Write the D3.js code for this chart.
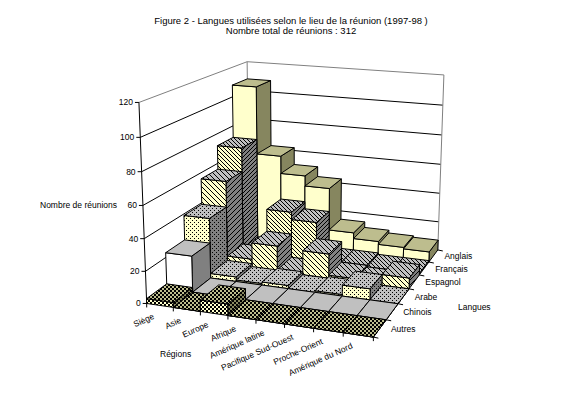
<!DOCTYPE html>
<html lang="fr">
<head>
<meta charset="utf-8">
<title>Langues utilisées</title>
<script src="https://d3js.org/d3.v7.min.js"></script>
<style>
    body { margin: 0; background: #fff; }
    svg { display: block; }
    text { font-family: "Liberation Sans", Arial, sans-serif; font-size: 8.5px; fill: #000; }
</style>
</head>
<body>
<div id="plot"></div>
<script>
// values, one array per language, same order as regions
var regions = ["Siège", "Asie", "Europe", "Afrique", "Amérique latine", "Pacifique Sud-Ouest", "Proche-Orient", "Amérique du Nord"];
var langues = ["Autres", "Chinois", "Arabe", "Espagnol", "Français", "Anglais"];
var anglais = [108, 62, 50, 43, 14, 10, 8, 7];
var francais = [72, 3, 32, 27, 2, 2, 1, 1];
var espagnol = [56, 6, 17, 1, 16, 2, 1, 7];
var arabe = [39, 3, 1, 2, 0, 1, 7, 0];
var chinois = [23, 0, 0, 0, 0, 0, 0, 0];
var autres = [3, 0, 7, 0, 0, 0, 0, 0];
var valeurs = [autres, chinois, arabe, espagnol, francais, anglais];
var yTicks = [0, 20, 40, 60, 80, 100, 120];

var svg = d3.select("#plot").append("svg").attr("width", 578).attr("height", 396);

// fit a camera matrix to the corners of the chart box (x, y, z in 0..1)
var corners = [
    [0, 0, 0, 147, 304], [1, 0, 0, 373, 337], [1, 1, 0, 438, 250], [0, 1, 0, 249, 227],
    [0, 0, 1, 139, 102], [0, 1, 1, 247, 62], [1, 1, 1, 444, 75]
];
function fitCamera(pts) {
    var rows = [];
    pts.forEach(function (p) {
        rows.push([p[0], p[1], p[2], 1, 0, 0, 0, 0, -p[3] * p[0], -p[3] * p[1], -p[3] * p[2], p[3]]);
        rows.push([0, 0, 0, 0, p[0], p[1], p[2], 1, -p[4] * p[0], -p[4] * p[1], -p[4] * p[2], p[4]]);
    });
    var n = 11, m = [];
    for (var i = 0; i < n; i++) {
        m.push([]);
        for (var j = 0; j <= n; j++) m[i].push(d3.sum(rows, function (r) { return r[i] * r[j]; }));
    }
    for (i = 0; i < n; i++) {
        var best = i;
        for (j = i + 1; j < n; j++) if (Math.abs(m[j][i]) > Math.abs(m[best][i])) best = j;
        var t = m[i]; m[i] = m[best]; m[best] = t;
        for (j = 0; j < n; j++) {
            if (j == i) continue;
            var f = m[j][i] / m[i][i];
            for (var k = i; k <= n; k++) m[j][k] -= f * m[i][k];
        }
    }
    return m.map(function (r, i) { return r[n] / r[i]; });
}
var cam = fitCamera(corners);
function project(x, y, z) {
    var w = cam[8] * x + cam[9] * y + cam[10] * z + 1;
    return [(cam[0] * x + cam[1] * y + cam[2] * z + cam[3]) / w,
            (cam[4] * x + cam[5] * y + cam[6] * z + cam[7]) / w];
}

var xScale = d3.scaleBand().domain(regions).range([0, 1]);
var yScale = d3.scaleBand().domain(langues).range([0, 1]);
var zScale = d3.scaleLinear().domain([0, 120]).range([0, 1]);

// fill patterns
var defs = svg.append("defs");
function makePattern(id, bg, kind, size) {
    var p = defs.append("pattern").attr("id", id).attr("patternUnits", "userSpaceOnUse")
        .attr("width", size).attr("height", size);
    p.append("rect").attr("width", size).attr("height", size).attr("fill", bg);
    var cells = [], s = 1;
    if (kind == "back") d3.range(size).forEach(function (i) { cells.push([i, i]); });
    if (kind == "fwd") d3.range(size).forEach(function (i) { cells.push([i, size - 1 - i]); });
    if (kind == "dots") cells = [[0, 0], [size / 2, size / 2]];
    if (kind == "check") { cells = [[0, 0], [size / 2, size / 2]]; s = size / 2; }
    p.selectAll("rect.c").data(cells).join("rect").attr("class", "c")
        .attr("x", function (d) { return d[0]; }).attr("y", function (d) { return d[1]; })
        .attr("width", s).attr("height", s).attr("fill", "#000")
        .attr("shape-rendering", "crispEdges");
    return "url(#" + id + ")";
}
var yellow = "#ffffcc", grey = "#c0c0c0", dark = "#808080", olive = "#bdbd8e", oliveDark = "#86865f";
var faces = {
    "Anglais": { front: yellow, top: olive, side: oliveDark },
    "Français": { front: makePattern("f1", yellow, "back", 4), top: makePattern("f2", grey, "back", 4), side: makePattern("f3", dark, "fwd", 4) },
    "Espagnol": { front: makePattern("e1", yellow, "back", 5), top: makePattern("e2", grey, "back", 5), side: makePattern("e3", dark, "fwd", 5) },
    "Arabe": { front: makePattern("a1", yellow, "dots", 4), top: makePattern("a2", grey, "dots", 4), side: makePattern("a3", dark, "dots", 4) },
    "Chinois": { front: "#fff", top: grey, side: dark },
    "Autres": { front: makePattern("o1", yellow, "check", 4), top: makePattern("o2", olive, "check", 4), side: makePattern("o3", oliveDark, "check", 4) }
};

function poly(pts) {
    return d3.line()(pts.map(function (p) { return project(p[0], p[1], p[2]); })) + "Z";
}
function seg(g, a, b, color) {
    var p = project(a[0], a[1], a[2]), q = project(b[0], b[1], b[2]);
    g.append("line").attr("x1", p[0]).attr("y1", p[1]).attr("x2", q[0]).attr("y2", q[1])
        .attr("stroke", color);
}

// walls
var walls = svg.append("g");
yTicks.forEach(function (v) {
    var z = zScale(v);
    var color = v == 120 ? "#808080" : "#000";
    seg(walls, [0, 0, z], [0, 1, z], color);
    seg(walls, [0, 1, z], [1, 1, z], color);
});
seg(walls, [0, 1, 0], [0, 1, 1], "#808080");
seg(walls, [1, 1, 0], [1, 1, 1], "#808080");
seg(walls, [0, 0, 0], [0, 0, 1], "#000");

// bars, back row first, left to right
var cells = [];
langues.slice().reverse().forEach(function (l) {
    regions.forEach(function (r, i) {
        cells.push({ langue: l, region: r, value: valeurs[langues.indexOf(l)][i] });
    });
});
var bars = svg.append("g").selectAll("g").data(cells).join("g")
    .attr("stroke", "#000").attr("stroke-width", 1).attr("stroke-linejoin", "round");
function box(d) {
    var x0 = xScale(d.region), x1 = x0 + xScale.bandwidth();
    var y0 = yScale(d.langue), y1 = y0 + yScale.bandwidth();
    return { x0: x0, x1: x1, y0: y0, y1: y1, z: zScale(d.value) };
}
bars.append("path")
    .attr("fill", function (d) { return faces[d.langue].side; })
    .attr("d", function (d) { var b = box(d); return poly([[b.x1, b.y0, 0], [b.x1, b.y1, 0], [b.x1, b.y1, b.z], [b.x1, b.y0, b.z]]); });
bars.append("path")
    .attr("fill", function (d) { return faces[d.langue].front; })
    .attr("d", function (d) { var b = box(d); return poly([[b.x0, b.y0, 0], [b.x1, b.y0, 0], [b.x1, b.y0, b.z], [b.x0, b.y0, b.z]]); });
bars.append("path")
    .attr("fill", function (d) { return faces[d.langue].top; })
    .attr("d", function (d) { var b = box(d); return poly([[b.x0, b.y0, b.z], [b.x1, b.y0, b.z], [b.x1, b.y1, b.z], [b.x0, b.y1, b.z]]); });

// value axis
var axis = svg.append("g");
yTicks.forEach(function (v) {
    var p = project(0, 0, zScale(v));
    axis.append("line").attr("x1", p[0] - 4).attr("x2", p[0]).attr("y1", p[1]).attr("y2", p[1]).attr("stroke", "#000");
    axis.append("text").attr("x", p[0] - 6).attr("y", p[1] + 3).attr("text-anchor", "end").text(v);
});

// region axis
regions.concat([""]).forEach(function (r, i) {
    var t = i / regions.length;
    var p = project(t, 0, 0);
    axis.append("line").attr("x1", p[0]).attr("y1", p[1]).attr("x2", p[0]).attr("y2", p[1] + 4).attr("stroke", "#000");
});
regions.forEach(function (r) {
    var p = project(xScale(r) + xScale.bandwidth() / 2, 0, 0);
    axis.append("text").attr("text-anchor", "end")
        .attr("transform", "translate(" + (p[0] - 5) + "," + (p[1] + 13) + ") rotate(-24)")
        .text(r);
});

// language axis
langues.concat([""]).forEach(function (l, i) {
    var t = i / langues.length;
    var p = project(1, t, 0);
    axis.append("line").attr("x1", p[0]).attr("y1", p[1]).attr("x2", p[0] + 5).attr("y2", p[1] + 1).attr("stroke", "#000");
});
langues.forEach(function (l) {
    var p = project(1, yScale(l) + yScale.bandwidth() / 2, 0);
    axis.append("text").attr("x", p[0] + 11).attr("y", p[1] + 3.5).text(l);
});

// titles
svg.append("text").attr("x", 291).attr("y", 24).attr("text-anchor", "middle").style("font-size", "9.5px")
    .text("Figure 2 - Langues utilisées selon le lieu de la réunion (1997-98 )");
svg.append("text").attr("x", 291).attr("y", 34).attr("text-anchor", "middle").style("font-size", "9.5px")
    .text("Nombre total de réunions : 312");
svg.append("text").attr("x", 40).attr("y", 208).text("Nombre de réunions");
svg.append("text").attr("x", 160).attr("y", 357).text("Régions");
svg.append("text").attr("x", 458).attr("y", 310).text("Langues");
</script>
</body>
</html>
